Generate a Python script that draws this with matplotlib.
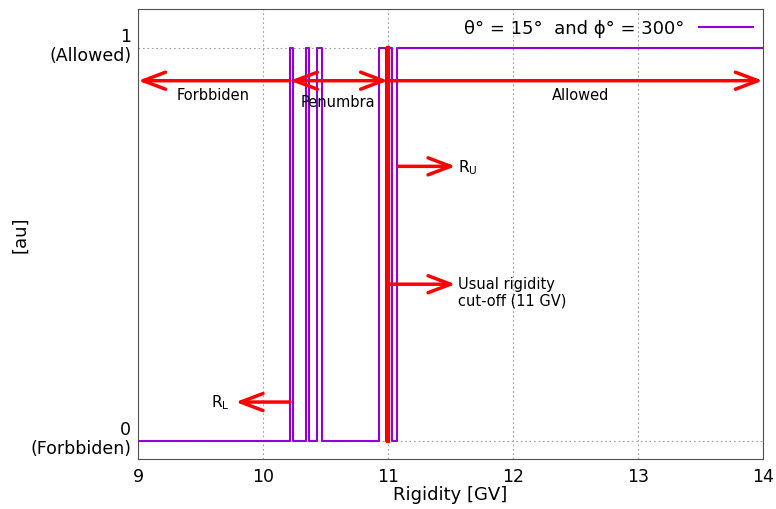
import numpy as np
import matplotlib
matplotlib.use("Agg")
import matplotlib.pyplot as plt

# Trayectorias permitidas (1) / prohibidas (0) frente a la rigidez
rise_gv = [10.215, 10.34, 10.43, 10.93, 11.01, 11.07]
fall_gv = [10.24, 10.37, 10.475, 10.98, 11.035]
x_min, x_max = 9.0, 14.0

R_L = 10.215
R_U = 11.07
R_cut = 11.0

x_ticks = [9, 10, 11, 12, 13, 14]
y_ticks = [0, 1]
y_ticklabels = ["0\n(Forbbiden)", "1\n(Allowed)"]

# construir la curva escalonada a partir de los flancos
xs, ys = [x_min], [0]
edges = sorted([(r, 1) for r in rise_gv] + [(f, 0) for f in fall_gv])
level = 0
for xe, new in edges:
    xs += [xe, xe]
    ys += [level, new]
    level = new
xs.append(x_max)
ys.append(level)

plt.rcParams.update({"font.family": "DejaVu Sans", "font.size": 12.5})
purple = "#9400d3"
red = "#ff0000"

fig = plt.figure(figsize=(7.76, 5.10), dpi=100)
ax = fig.add_axes([0.178, 0.098, 0.805, 0.882])

ax.plot(xs, ys, color=purple, lw=1.5, label="θ° = 15°  and ϕ° = 300°")

# linea de corte usual
ax.plot([R_cut, R_cut], [0, 1], color=red, lw=3)

head = "->,head_length=0.45,head_width=0.17"
arrow_kw = dict(color=red, lw=2.5, mutation_scale=36, shrinkA=0, shrinkB=0)
y_reg = 0.918
ax.annotate("", xy=(x_min, y_reg), xytext=(R_L, y_reg),
            arrowprops=dict(arrowstyle=head, **arrow_kw))
ax.annotate("", xy=(R_L, y_reg), xytext=(R_cut, y_reg),
            arrowprops=dict(arrowstyle=head.replace("->", "<->"), **arrow_kw))
ax.annotate("", xy=(x_max, y_reg), xytext=(R_cut, y_reg),
            arrowprops=dict(arrowstyle=head, **arrow_kw))

ax.text(9.6, 0.883, "Forbbiden", ha="center", va="center", fontsize=10.5)
ax.text(10.6, 0.866, "Penumbra", ha="center", va="center", fontsize=10.5)
ax.text(12.54, 0.883, "Allowed", ha="center", va="center", fontsize=10.5)

ax.annotate("", xy=(9.78, 0.10), xytext=(R_L, 0.10),
            arrowprops=dict(arrowstyle=head, **arrow_kw))
ax.text(9.66, 0.10, r"R$_\mathregular{L}$", ha="center", va="center", fontsize=11)

ax.annotate("", xy=(11.54, 0.70), xytext=(R_U + 0.01, 0.70),
            arrowprops=dict(arrowstyle=head, **arrow_kw))
ax.text(11.56, 0.70, r"R$_\mathregular{U}$", ha="left", va="center", fontsize=11)

ax.annotate("", xy=(11.54, 0.40), xytext=(R_cut, 0.40),
            arrowprops=dict(arrowstyle=head, **arrow_kw))
ax.text(11.56, 0.38, "Usual rigidity\ncut-off (11 GV)", ha="left", va="center",
        fontsize=10.5, linespacing=1.1)

ax.set_xlim(x_min, x_max)
ax.set_ylim(-0.045, 1.10)
ax.set_xticks(x_ticks)
ax.set_yticks(y_ticks)
ax.set_yticklabels([])
# etiquetas de y de dos lineas, algo por encima de la marca
for yv, lab in zip(y_ticks, y_ticklabels):
    ax.annotate(lab, xy=(0, yv), xycoords=("axes fraction", "data"),
                xytext=(-5, 2), textcoords="offset points",
                ha="right", va="center", linespacing=1.05)
ax.tick_params(direction="in", length=0, pad=6)
ax.grid(True, color="#a0a0a0", linestyle=(0, (1.5, 2.5)), lw=0.8)
for s in ax.spines.values():
    s.set_color("#505050")
    s.set_linewidth(0.8)

ax.set_xlabel("Rigidity [GV]", fontsize=13, labelpad=0)
ax.set_ylabel("[au]", fontsize=13)
ax.yaxis.set_label_coords(-0.175, 0.5)

leg = ax.legend(loc="upper right", frameon=False, fontsize=13,
                handlelength=3.0, markerfirst=False, borderaxespad=0.15,
                handletextpad=0.8)

fig.savefig("out.png", dpi=100)
